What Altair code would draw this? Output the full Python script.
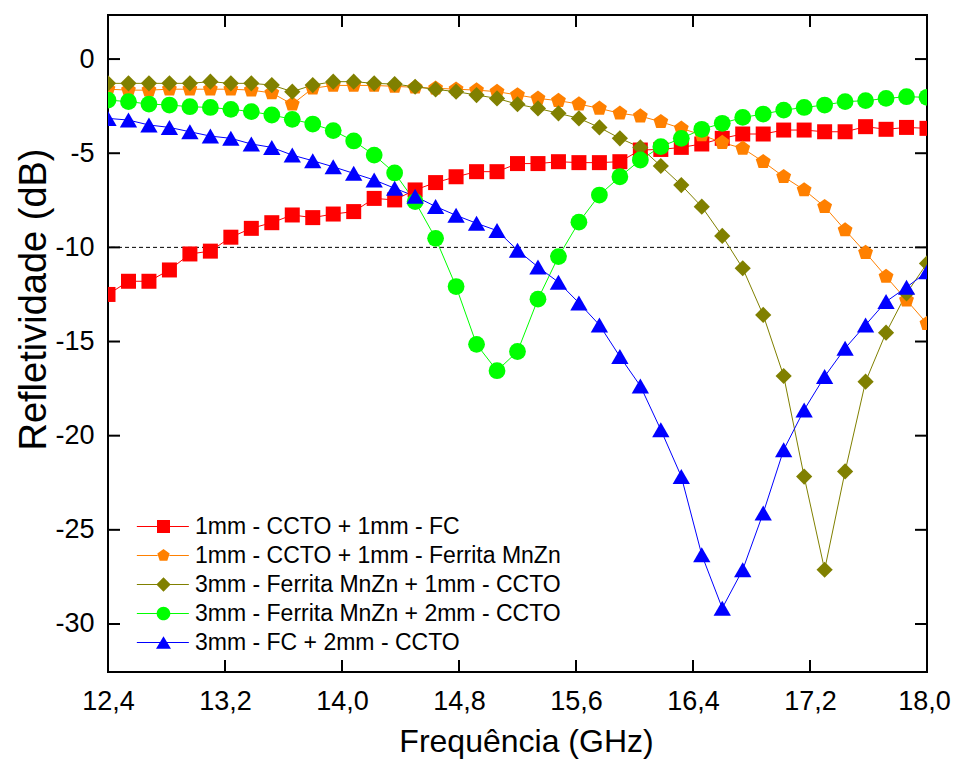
import altair as alt
import pandas as pd

# ---------------- data ----------------
freq = [12.40, 12.54, 12.68, 12.82, 12.96, 13.10, 13.24, 13.38, 13.52, 13.66,
        13.80, 13.94, 14.08, 14.22, 14.36, 14.50, 14.64, 14.78, 14.92, 15.06,
        15.20, 15.34, 15.48, 15.62, 15.76, 15.90, 16.04, 16.18, 16.32, 16.46,
        16.60, 16.74, 16.88, 17.02, 17.16, 17.30, 17.44, 17.58, 17.72, 17.86,
        18.00]

s_red = [-12.5, -11.8, -11.8, -11.2, -10.35, -10.2, -9.46, -8.99, -8.69, -8.28,
         -8.42, -8.23, -8.1, -7.4, -7.48, -6.95, -6.56, -6.25, -5.98, -5.98,
         -5.55, -5.55, -5.45, -5.5, -5.5, -5.45, -4.83, -4.8, -4.69, -4.51,
         -4.21, -3.98, -3.98, -3.77, -3.77, -3.86, -3.86, -3.59, -3.73, -3.63,
         -3.68]

s_orange = [-1.6, -1.65, -1.65, -1.6, -1.6, -1.6, -1.6, -1.65, -1.8, -2.4,
            -1.55, -1.4, -1.4, -1.4, -1.45, -1.5, -1.55, -1.6, -1.65, -1.73,
            -1.91, -2.09, -2.21, -2.39, -2.62, -2.88, -3.03, -3.33, -3.68, -4.03,
            -4.44, -4.74, -5.45, -6.25, -6.95, -7.84, -9.08, -10.28, -11.55, -12.8,
            -14.05]

s_olive = [-1.29, -1.29, -1.29, -1.29, -1.29, -1.2, -1.29, -1.29, -1.38, -1.73,
           -1.38, -1.2, -1.2, -1.29, -1.33, -1.47, -1.61, -1.73, -1.91, -2.09,
           -2.4, -2.62, -2.88, -3.15, -3.63, -4.21, -4.69, -5.68, -6.69, -7.84,
           -9.39, -11.11, -13.59, -16.83, -22.17, -27.12, -21.9, -17.13, -14.53, -12.44,
           -10.85]

s_green = [-2.18, -2.26, -2.39, -2.44, -2.53, -2.57, -2.67, -2.79, -2.97, -3.2,
           -3.45, -3.8, -4.35, -5.1, -6.05, -7.57, -9.52, -12.08, -15.15, -16.55,
           -15.53, -12.75, -10.49, -8.66, -7.22, -6.25, -5.36, -4.65, -4.21, -3.73,
           -3.41, -3.1, -2.92, -2.71, -2.57, -2.44, -2.26, -2.21, -2.09, -2.0,
           -2.03]

s_blue = [-3.15, -3.24, -3.5, -3.63, -3.86, -4.09, -4.21, -4.51, -4.69, -5.1,
          -5.4, -5.72, -6.07, -6.42, -6.86, -7.29, -7.83, -8.3, -8.72, -9.11,
          -10.15, -11.04, -11.85, -12.95, -14.12, -15.8, -17.36, -19.69, -22.17, -26.33,
          -29.16, -27.12, -24.11, -20.75, -18.63, -16.86, -15.36, -14.12, -12.88, -12.12,
          -11.3]

series_names = ["1mm - CCTO + 1mm - FC",
                "1mm - CCTO + 1mm - Ferrita MnZn",
                "3mm - Ferrita MnZn + 1mm - CCTO",
                "3mm - Ferrita MnZn + 2mm - CCTO",
                "3mm - FC + 2mm - CCTO"]
colors = ["#FF0000", "#FF8000", "#808000", "#00FF00", "#0000FF"]

x_ticks = [12.4, 13.2, 14.0, 14.8, 15.6, 16.4, 17.2, 18.0]
y_ticks = [0, -5, -10, -15, -20, -25, -30]
threshold = [-10]

# ---------------- tables ----------------
rows = []
for i, (name, vals) in enumerate(zip(series_names, [s_red, s_orange, s_olive, s_green, s_blue])):
    for f, v in zip(freq, vals):
        rows.append({"f": f, "r": v, "serie": name, "ordem": i})
df = pd.DataFrame(rows)
xt_df = pd.DataFrame({"v": x_ticks})
yt_df = pd.DataFrame({"v": y_ticks})
thr_df = pd.DataFrame({"v": threshold})

W, H = 819, 657
FONT = "Liberation Sans"
TICK = 12

xscale = alt.Scale(domain=[12.4, 18.0], nice=False, zero=False)
yscale = alt.Scale(domain=[-32.55, 2.34], nice=False, zero=False)

pent = "M0,-1L0.951,-0.309L0.588,0.809L-0.588,0.809L-0.951,-0.309Z"
shapes = ["square", pent, "diamond", "circle", "triangle-up"]
sizes = [225, 300, 320, 215, 350]


def bars(a):
    # thin filled bars left/right of the marker (legend line segment)
    return ("M-4.1,-0.09H-%sV0.09H-4.1Z" % a) + ("M%s,-0.09H3.9V0.09H%sZ" % (a, a))


leg_shapes = [
    bars("0.9") + "M-1,-1H1V1H-1Z",
    bars("0.9") + pent,
    bars("0.9") + "M0,-1.1L1.1,0L0,1.1L-1.1,0Z",
    bars("0.9") + "M1.05,0A1.05,1.05 0 1,1 -1.05,0A1.05,1.05 0 1,1 1.05,0Z",
    bars("0.5") + "M0,-0.95L1.15,0.95L-1.15,0.95Z",
]

x_axis = alt.Axis(values=x_ticks, labelExpr="replace(format(datum.value, '.1f'), '.', ',')",
                  labelFontSize=27, labelFont=FONT, labelColor="black", labelFlush=False,
                  labelOverlap=False, ticks=False, domain=False, grid=False, labelPadding=16,
                  labelOffset={"condition": {"test": "datum.value >= 17.9", "value": -3}, "value": 0},
                  title="Frequência (GHz)", titleFont=FONT, titleFontSize=32,
                  titleFontWeight="normal", titleColor="black", titlePadding=12, titleX=418)
y_axis = alt.Axis(values=y_ticks, labelExpr="'' + datum.value",
                  labelFontSize=27, labelFont=FONT, labelColor="black", labelFlush=False,
                  labelOverlap=False, ticks=False, domain=False, grid=False, labelPadding=14,
                  title="Refletividade (dB)", titleFont=FONT, titleFontSize=38,
                  titleFontWeight="normal", titleColor="black", titleX=-55, titleY=284,
                  titleBaseline="bottom", titleAngle=270)

base = alt.Chart(df)

lines = base.mark_line(strokeWidth=1, clip=True).encode(
    x=alt.X("f:Q", scale=xscale, axis=x_axis),
    y=alt.Y("r:Q", scale=yscale, axis=y_axis),
    color=alt.Color("serie:N", scale=alt.Scale(domain=series_names, range=colors), legend=None),
    order="f:Q",
)

points = base.mark_point(filled=True, opacity=1, clip=True).encode(
    x=alt.X("f:Q", scale=xscale),
    y=alt.Y("r:Q", scale=yscale),
    color=alt.Color("serie:N", scale=alt.Scale(domain=series_names, range=colors), legend=None),
    shape=alt.Shape("serie:N", scale=alt.Scale(domain=series_names, range=shapes), legend=None),
    size=alt.Size("serie:O", scale=alt.Scale(domain=series_names, range=sizes), legend=None),
    order=alt.Order("ordem:Q"),
)

leg = alt.Legend(orient="none", legendX=44, legendY=500, title=None,
                 labelFontSize=23, labelFont=FONT, labelColor="black",
                 labelLimit=900, symbolSize=169, labelOffset=20, rowPadding=5,
                 padding=0, symbolOpacity=1, symbolStrokeWidth=0)

legend_layer = base.transform_filter("false").mark_point(filled=True, opacity=1).encode(
    x=alt.X("f:Q", scale=xscale),
    y=alt.Y("r:Q", scale=yscale),
    color=alt.Color("serie:N", scale=alt.Scale(domain=series_names, range=colors), legend=leg),
    shape=alt.Shape("serie:N", scale=alt.Scale(domain=series_names, range=leg_shapes), legend=leg),
)

thr = alt.Chart(thr_df).mark_rule(color="black", strokeWidth=1, strokeDash=[4, 3]).encode(
    y=alt.Y("v:Q", scale=yscale)
)

tb = alt.Chart(xt_df).mark_rule(color="black", strokeWidth=2).encode(
    x=alt.X("v:Q", scale=xscale), y=alt.value(H), y2=alt.value(H - TICK))
tt = alt.Chart(xt_df).mark_rule(color="black", strokeWidth=2).encode(
    x=alt.X("v:Q", scale=xscale), y=alt.value(0), y2=alt.value(TICK))
tl = alt.Chart(yt_df).mark_rule(color="black", strokeWidth=2).encode(
    y=alt.Y("v:Q", scale=yscale), x=alt.value(0), x2=alt.value(TICK))
tr = alt.Chart(yt_df).mark_rule(color="black", strokeWidth=2).encode(
    y=alt.Y("v:Q", scale=yscale), x=alt.value(W), x2=alt.value(W - TICK))

chart = alt.layer(thr, lines, points, legend_layer, tb, tt, tl, tr).resolve_scale(
    shape="independent", color="independent"
).properties(
    width=W, height=H,
    padding={"left": 100, "top": 7, "right": 24, "bottom": 88},
    autosize=alt.AutoSizeParams(type="none"),
    background="white",
).configure_view(stroke="black", strokeWidth=2)

chart.save("out.html", embed_options={"renderer": "svg", "actions": False})
